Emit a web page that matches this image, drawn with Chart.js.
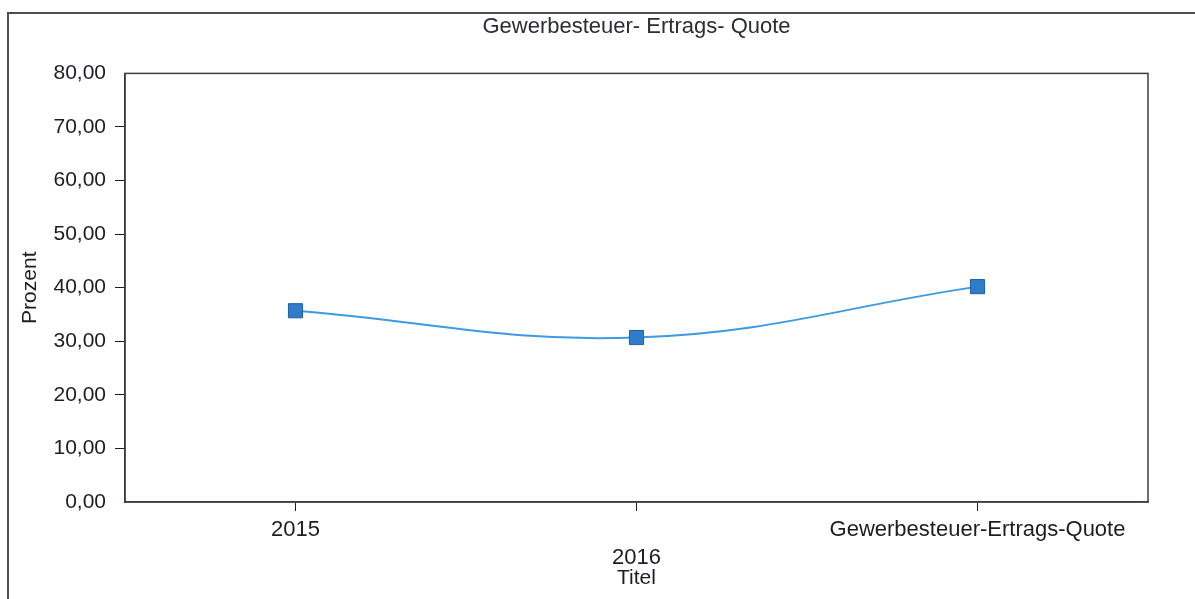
<!DOCTYPE html>
<html>
<head>
<meta charset="utf-8">
<script src="https://cdn.jsdelivr.net/npm/chart.js@4/dist/chart.umd.min.js"></script>
<style>
  html, body { margin: 0; padding: 0; background: #fff; overflow: hidden; }
  #frame { position: absolute; left: 7px; top: 12px; width: 1300px; height: 700px; border: 2px solid #4b4f55; }
  #wrap { position: absolute; left: 0; top: 0; width: 1195px; height: 599px; }
</style>
</head>
<body>
<div id="frame"></div>
<div id="wrap"><canvas id="chart"></canvas></div>
<script>
const categories = ['2015', '2016', 'Gewerbesteuer-Ertrags-Quote'];
const quote = [35.7, 30.7, 40.2];
const yTicks = [0, 10, 20, 30, 40, 50, 60, 70, 80];

const FONT = 'Liberation Sans, Arial, sans-serif';
const INK = '#1b1d21';

// rahmen um die zeichenfläche
const plotBox = {
  id: 'plotBox',
  afterDraw(chart) {
    const a = chart.chartArea;
    const c = chart.ctx;
    c.save();
    c.strokeStyle = '#3a3e44';
    c.lineWidth = 1.5;
    c.strokeRect(a.left, a.top, a.right - a.left, a.bottom - a.top);
    c.restore();
  }
};

const ctx = document.getElementById('chart').getContext('2d');
new Chart(ctx, {
  type: 'line',
  data: {
    labels: categories,
    datasets: [{
      data: quote,
      borderColor: '#3d9be3',
      borderWidth: 2,
      tension: 0.4,
      pointStyle: 'rect',
      pointRadius: 10,
      pointHoverRadius: 10,
      pointBackgroundColor: '#2f7ccc',
      pointBorderColor: '#215f9e',
      pointBorderWidth: 1
    }]
  },
  options: {
    responsive: true,
    maintainAspectRatio: false,
    animation: false,
    layout: { padding: { left: 0, right: 47, top: 0, bottom: 0 } },
    plugins: {
      legend: { display: false },
      tooltip: { enabled: false },
      title: {
        display: true,
        fullSize: false,
        text: 'Gewerbesteuer- Ertrags- Quote',
        color: '#2a2d32',
        font: { family: FONT, size: 22, weight: 'normal', lineHeight: 1.2 },
        padding: { top: 14, bottom: 33 }
      }
    },
    scales: {
      x: {
        offset: true,
        afterFit: s => { s.height = 97; },
        grid: { offset: false, drawOnChartArea: false, drawTicks: true, tickLength: 9, color: INK },
        border: { display: true, color: '#3a3e44', width: 1.5 },
        ticks: {
          color: INK,
          autoSkip: false,
          maxRotation: 0,
          padding: 5,
          font: { family: FONT, size: 22, lineHeight: 1.27 },
          callback: function (v, i) {
            const l = this.getLabelForValue(v);
            return i === 1 ? ['', l] : l;
          }
        },
        title: {
          display: true,
          text: 'Titel',
          color: INK,
          font: { family: FONT, size: 21, lineHeight: 1.2 },
          padding: { top: 0, bottom: 8 }
        }
      },
      y: {
        min: 0,
        max: 80,
        afterFit: s => { s.width = 125; },
        afterBuildTicks: s => { s.ticks = yTicks.map(v => ({ value: v })); },
        grid: {
          drawOnChartArea: false,
          drawTicks: true,
          tickLength: 10,
          color: c => (c.tick && (c.tick.value === 0 || c.tick.value === 80)) ? 'rgba(0,0,0,0)' : INK
        },
        border: { display: true, color: '#3a3e44', width: 1.5 },
        ticks: {
          color: INK,
          padding: 9,
          font: { family: FONT, size: 21 },
          callback: v => v.toFixed(2).replace('.', ',')
        },
        title: {
          display: true,
          text: 'Prozent',
          color: INK,
          font: { family: FONT, size: 21, lineHeight: 1.2 },
          padding: { top: 18, bottom: 0 }
        }
      }
    }
  },
  plugins: [plotBox]
});
</script>
</body>
</html>
